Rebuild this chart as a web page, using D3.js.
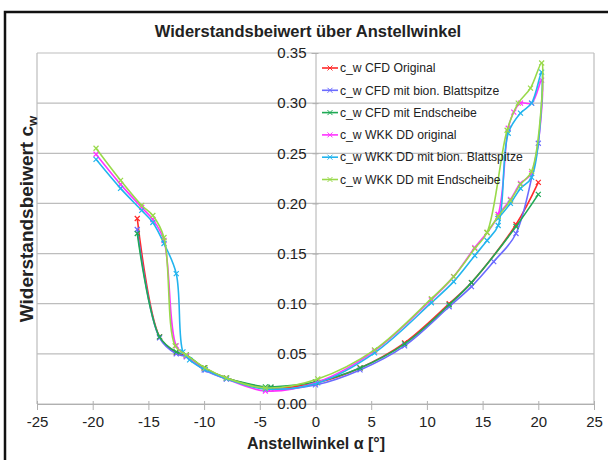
<!DOCTYPE html>
<html>
<head>
<meta charset="utf-8">
<script src="https://cdn.jsdelivr.net/npm/d3@7"></script>
<style>
  body { margin: 0; background: #fff; }
  text { font-family: "Liberation Sans", Arial, sans-serif; fill: #222; }
</style>
</head>
<body>
<div id="body"></div>
<script>
// data: [Anstellwinkel, c_w]
var cfdOriginal = [[-16,0.185],[-14,0.067],[-12.5,0.051],[-11.6,0.048],[-10,0.036],[-8,0.026],[-4,0.016],[0,0.021],[4,0.036],[8,0.061],[12,0.100],[14,0.121],[18,0.179],[20,0.221]]
var cfdBion = [[-16,0.174],[-14,0.066],[-12.5,0.050],[-11.6,0.047],[-10,0.034],[-8,0.025],[-4,0.015],[0,0.019],[4,0.034],[8,0.058],[12,0.097],[14,0.117],[16,0.142],[18,0.170],[20,0.260]]
var cfdEnd = [[-16,0.170],[-14,0.067],[-12.5,0.052],[-11.6,0.049],[-10,0.036],[-8,0.026],[-4.5,0.017],[-4,0.017],[0,0.022],[4,0.036],[8,0.060],[12,0.099],[14,0.121],[18,0.177],[20,0.209]]
var wkkOriginal = [[-19.7,0.249],[-17.5,0.219],[-15.6,0.196],[-14.6,0.184],[-13.6,0.163],[-12.5,0.058],[-11.6,0.048],[-9.9,0.034],[-8,0.025],[-4.5,0.013],[0.2,0.022],[5.3,0.053],[10.4,0.104],[12.4,0.127],[14.3,0.156],[15.4,0.171],[16.4,0.189],[17.3,0.275],[17.8,0.291],[18.4,0.300],[19.4,0.300],[20.3,0.323],[19.4,0.230],[18.4,0.220],[17.5,0.204],[16.4,0.189]]
var wkkBion = [[-19.7,0.244],[-17.5,0.215],[-15.6,0.193],[-14.6,0.181],[-13.6,0.160],[-12.5,0.130],[-11.9,0.052],[-11.3,0.044],[-9.9,0.034],[-8,0.025],[-4.5,0.015],[0.2,0.021],[5.3,0.051],[10.4,0.101],[12.4,0.122],[14.3,0.148],[15.4,0.163],[16.4,0.178],[17.3,0.270],[18.4,0.290],[19.4,0.300],[20.3,0.331],[19.4,0.226],[18.4,0.215],[17.5,0.200],[16.4,0.185]]
var wkkEnd = [[-19.7,0.255],[-17.5,0.223],[-15.6,0.198],[-14.6,0.188],[-13.6,0.166],[-12.6,0.058],[-11.6,0.049],[-9.9,0.036],[-8,0.026],[-4.5,0.016],[0.2,0.025],[5.3,0.054],[10.4,0.105],[12.4,0.127],[14.3,0.155],[15.4,0.171],[17.2,0.273],[18.2,0.300],[19.3,0.315],[20.3,0.340],[19.4,0.232],[18.4,0.219],[17.5,0.203],[16.4,0.187],[15.4,0.171]]

var seriesNames = ["c_w CFD Original", "c_w CFD mit bion. Blattspitze", "c_w CFD mit Endscheibe",
                   "c_w WKK DD original", "c_w WKK DD mit bion. Blattspitze", "c_w WKK DD mit Endscheibe"]
var seriesColors = ["#ff2a2a", "#6b6bff", "#1faa55", "#ff33ff", "#22b4ee", "#99d94a"]
var seriesData = [cfdOriginal, cfdBion, cfdEnd, wkkOriginal, wkkBion, wkkEnd]

var xTicks = [-25,-20,-15,-10,-5,0,5,10,15,20,25]
var yTicks = [0,0.05,0.10,0.15,0.20,0.25,0.30,0.35]

var W = 608, H = 460

let svg = d3.select("#body").append("svg")
    .attr("width", W)
    .attr("height", H)

svg.append("rect").attr("width", W).attr("height", H).attr("fill", "#fff")

// outer frame (cut off right / bottom)
svg.append("rect")
    .attr("x", 5).attr("y", 12)
    .attr("width", 640).attr("height", 500)
    .attr("fill", "none")
    .attr("stroke", "#111")
    .attr("stroke-width", 2.5)

let x = d3.scaleLinear().domain([-25, 25]).range([37, 594])
let y = d3.scaleLinear().domain([0, 0.35]).range([404, 53])

// gridlines
svg.append("g").selectAll("line")
    .data(yTicks)
    .enter().append("line")
    .attr("x1", x(-25)).attr("x2", x(25))
    .attr("y1", d => y(d)).attr("y2", d => y(d))
    .attr("stroke", "#bdbdbd")
    .attr("stroke-width", 1.2)

// plot border left/right
svg.append("line").attr("x1", x(-25)).attr("x2", x(-25)).attr("y1", y(0.35)).attr("y2", y(0))
    .attr("stroke", "#bdbdbd").attr("stroke-width", 1.2)
svg.append("line").attr("x1", x(25)).attr("x2", x(25)).attr("y1", y(0.35)).attr("y2", y(0))
    .attr("stroke", "#bdbdbd").attr("stroke-width", 1.2)

// x axis
let xAxis = d3.axisBottom(x).tickValues(xTicks).tickSize(6).tickFormat(d => d)
let xs = svg.append("g")
    .attr("transform", "translate(0," + y(0) + ")")
    .call(xAxis)
xs.select(".domain").attr("stroke", "#b0b0b0")
xs.selectAll(".tick line").attr("stroke", "#b0b0b0").attr("y1", -3)
xs.selectAll(".tick text").attr("font-size", 15).attr("dy", "0.95em")
    .style("font-family", "'Liberation Sans', Arial, sans-serif").attr("fill", "#333")

// y axis at x = 0
let yAxis = d3.axisLeft(y).tickValues(yTicks).tickSize(4).tickFormat(d3.format(".2f"))
let ys = svg.append("g")
    .attr("transform", "translate(" + x(0) + ",0)")
    .call(yAxis)
ys.select(".domain").attr("stroke", "#b0b0b0")
ys.selectAll(".tick line").attr("stroke", "#b0b0b0").attr("x2", 3).attr("x1", -3)
ys.selectAll(".tick text").attr("font-size", 15).attr("x", -9)
    .style("font-family", "'Liberation Sans', Arial, sans-serif").attr("fill", "#333")

// lines
let line = d3.line()
    .x(d => x(d[0]))
    .y(d => y(d[1]))
    .curve(d3.curveCatmullRom.alpha(0.5))

let marker = d3.symbol().type(d3.symbolTimes).size(18)

seriesData.forEach(function(data, i) {
    svg.append("path")
        .datum(data)
        .attr("fill", "none")
        .attr("stroke", seriesColors[i])
        .attr("stroke-width", 1.6)
        .attr("d", line)
    svg.append("g").selectAll("path")
        .data(data)
        .enter().append("path")
        .attr("d", marker)
        .attr("transform", d => "translate(" + x(d[0]) + "," + y(d[1]) + ")")
        .attr("fill", "none")
        .attr("stroke", seriesColors[i])
        .attr("stroke-width", 1.2)
})

// legend
let legend = svg.append("g").selectAll("g")
    .data(seriesNames)
    .enter().append("g")
    .attr("transform", (d, i) => "translate(322," + (68 + i * 22.3) + ")")
legend.append("line")
    .attr("x1", 0).attr("x2", 16)
    .attr("stroke", (d, i) => seriesColors[i])
    .attr("stroke-width", 1.6)
legend.append("path")
    .attr("d", marker)
    .attr("transform", "translate(8,0)")
    .attr("fill", "none")
    .attr("stroke", (d, i) => seriesColors[i])
legend.append("text")
    .attr("x", 18)
    .attr("dy", "0.35em")
    .attr("font-size", 12.2)
    .text(d => d)

// title
svg.append("text")
    .attr("x", 308).attr("y", 37)
    .attr("text-anchor", "middle")
    .attr("font-size", 16.5)
    .attr("font-weight", "bold")
    .text("Widerstandsbeiwert über Anstellwinkel")

// axis titles
svg.append("text")
    .attr("x", 316).attr("y", 449)
    .attr("text-anchor", "middle")
    .attr("font-size", 16)
    .attr("font-weight", "bold")
    .text("Anstellwinkel α [°]")

let yt = svg.append("text")
    .attr("transform", "translate(33,219) rotate(-90)")
    .attr("text-anchor", "middle")
    .attr("font-size", 19)
    .attr("font-weight", "bold")
yt.append("tspan").text("Widerstandsbeiwert c")
yt.append("tspan").attr("font-size", 13).attr("dy", 4).text("w")
</script>
</body>
</html>
